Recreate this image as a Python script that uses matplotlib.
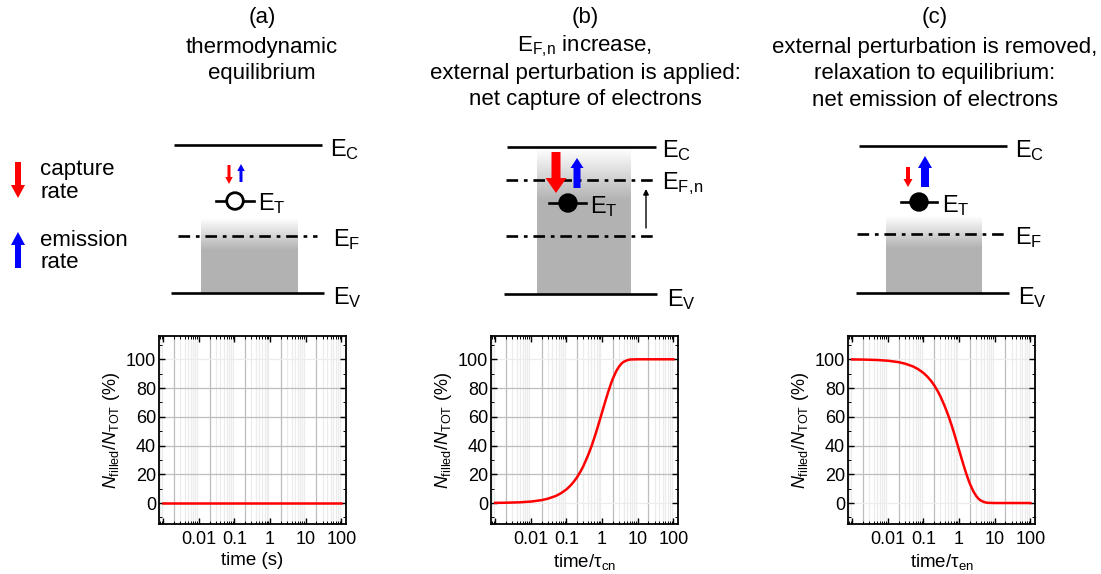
import numpy as np
import matplotlib
matplotlib.use("Agg")
import matplotlib.pyplot as plt
from matplotlib import patches
from matplotlib.ticker import FixedLocator, NullFormatter

plt.rcParams["font.family"] = ["Liberation Sans", "DejaVu Sans"]
plt.rcParams["mathtext.fontset"] = "custom"
plt.rcParams["mathtext.rm"] = "Liberation Sans"
plt.rcParams["mathtext.it"] = "Liberation Sans:italic"
plt.rcParams["mathtext.bf"] = "Liberation Sans:bold"

# ---- data: fraction of filled traps vs normalised time ----
time_points = [0.001, 0.002, 0.005, 0.01, 0.02, 0.03, 0.05, 0.07, 0.1, 0.13, 0.16,
               0.2, 0.25, 0.3, 0.4, 0.5, 0.6, 0.7, 0.85, 1.0, 1.2, 1.5, 1.8,
               2.0, 2.5, 3.0, 3.5, 4.0, 5.0, 6.0, 7.0, 10, 100]
filled_equilibrium = [0.0] * len(time_points)
filled_capture = [0.1, 0.2, 0.5, 1.0, 2.0, 3.0, 4.9, 6.8, 9.5, 12.2, 14.8,
                  18.1, 22.1, 25.9, 33.0, 39.3, 45.1, 50.3, 57.3, 63.2, 69.9,
                  77.7, 83.5, 86.5, 91.8, 95.0, 97.0, 98.2, 99.3, 99.8, 99.9,
                  100.0, 100.0]
filled_emission = [99.9, 99.8, 99.5, 99.0, 98.0, 97.0, 95.1, 93.2, 90.5, 87.8, 85.2,
                   81.9, 77.9, 74.1, 67.0, 60.7, 54.9, 49.7, 42.7, 36.8, 30.1,
                   22.3, 16.5, 13.5, 8.2, 5.0, 3.0, 1.8, 0.7, 0.2, 0.1,
                   0.0, 0.0]

x_tick_values = [0.01, 0.1, 1, 10, 100]
x_tick_labels = ["0.01", "0.1", "1", "10", "100"]
y_tick_values = [0, 20, 40, 60, 80, 100]

panel_titles = [
    ["(a)", "thermodynamic", "equilibrium"],
    ["(b)", r"E$_{\mathrm{F,\!n}}$ increase,", "external perturbation is applied:",
     "net capture of electrons"],
    ["(c)", "external perturbation is removed,", "relaxation to equilibrium:",
     "net emission of electrons"],
]
x_labels = ["time (s)", r"time/τ$_{\mathrm{cn}}$", r"time/τ$_{\mathrm{en}}$"]
y_label = r"$N_{\mathrm{filled}}/N_{\mathrm{TOT}}$ (%)"

W, H = 1101, 574
fig = plt.figure(figsize=(W / 100, H / 100), dpi=100)

# ---- overlay in pixel units for the band diagrams ----
ov = fig.add_axes([0, 0, 1, 1])
ov.set_axis_off()

LW = 1.9
DASHDOT = (0, (4.4, 2.2, 1.4, 2.2))
GRAY = np.array([0.70, 0.70, 0.70])


def level(x0, x1, y, dashed=False):
    ov.plot([x0, x1], [y, y], color="black", lw=LW,
            linestyle=DASHDOT if dashed else "-", solid_capstyle="butt")


def label(x, y, main, sub, size=17):
    ov.text(x, y, r"%s$_{\mathrm{%s}}$" % (main, sub), fontsize=size,
            ha="left", va="center")


def shaded_box(x0, x1, y_top, y_fade, y_bot):
    n = 200
    ys = np.linspace(y_top, y_bot, n)
    alpha = np.clip((ys - y_top) / (y_fade - y_top), 0, 1)
    img = np.zeros((n, 1, 4))
    img[:, 0, :3] = GRAY
    img[:, 0, 3] = alpha
    ov.imshow(img, extent=[x0, x1, y_bot, y_top], origin="upper",
              aspect="auto", interpolation="bilinear", zorder=0)


def arrow(x, y_tail, y_tip, color, width, head_w, head_l):
    ov.add_patch(patches.FancyArrow(x, y_tail, 0, y_tip - y_tail, width=width,
                                    head_width=head_w, head_length=head_l,
                                    length_includes_head=True, color=color,
                                    lw=0, zorder=5))


def trap(xc, y, x0, x1, filled):
    ov.plot([x0, x1], [y, y], color="black", lw=LW, zorder=4)
    ov.add_patch(patches.Circle((xc, y), 8.3, facecolor="black" if filled else "white",
                                edgecolor="black", lw=2.0, zorder=6))


# legend arrows
arrow(18, 162, 198, "#ff0000", 6, 14, 13)
ov.text(40, 170, "capture", fontsize=16, ha="left", va="center")
ov.text(40, 193, "rate", fontsize=16, ha="left", va="center")
arrow(18, 268, 232, "#0000ff", 6, 14, 13)
ov.text(40, 240, "emission", fontsize=16, ha="left", va="center")
ov.text(40, 263, "rate", fontsize=16, ha="left", va="center")

# panel (a)
shaded_box(201, 298, 218, 250, 293)
level(174, 322, 145)
label(330, 150, "E", "C")
arrow(229, 165, 184, "#ff0000", 3, 7.5, 7)
arrow(241, 182, 164, "#0000ff", 3, 7.5, 7)
trap(235, 201, 216, 254, filled=False)
label(258, 204, "E", "T")
level(178, 317, 236, dashed=True)
label(333, 240, "E", "F")
level(171, 324, 293)
label(333, 298, "E", "V")

# panel (b)
shaded_box(537, 631, 148, 200, 294)
level(507, 656, 147)
label(662, 151, "E", "C")
level(506, 653, 180, dashed=True)
label(662, 184, "E", r"F,\!n")
level(506, 653, 236, dashed=True)
arrow(556, 152, 193, "#ff0000", 9, 21, 15)
arrow(577, 188, 158, "#0000ff", 7, 13, 10)
trap(568, 203, 549, 586, filled=True)
label(590, 207, "E", "T")
ov.annotate("", xy=(646, 189), xytext=(646, 228),
            arrowprops=dict(arrowstyle="-|>", color="black", lw=1.0,
                            mutation_scale=8, shrinkA=0, shrinkB=0))
level(504, 657, 294)
label(667, 300, "E", "V")

# panel (c)
shaded_box(886, 982, 216, 248, 293)
level(859, 1007, 146)
label(1015, 151, "E", "C")
arrow(908, 167, 187, "#ff0000", 4, 9, 8)
arrow(925, 187, 156, "#0000ff", 8, 14, 12)
trap(919, 202, 901, 937, filled=True)
label(942, 206, "E", "T")
level(857, 1005, 234, dashed=True)
label(1015, 238, "E", "F")
level(856, 1009, 293)
label(1018, 298, "E", "V")

# titles
title_x = [262, 585, 935]
title_y = [[18, 48, 73], [18, 46, 73, 100], [18, 48, 74, 100]]
for tx, lines, ys in zip(title_x, panel_titles, title_y):
    for line, ty in zip(lines, ys):
        ov.text(tx, ty, line, fontsize=16, ha="center", va="center")

ov.set_xlim(0, W)
ov.set_ylim(H, 0)

# ---- kinetics panels ----
series = [filled_equilibrium, filled_capture, filled_emission]
lefts = [159, 491, 848]
dark_vgrid = [2 * 10.0 ** k for k in range(-4, 3)]
light_vgrid = [m * 10.0 ** k for k in range(-4, 3) for m in (3, 4, 5, 6, 7, 8, 9)]

for i, (left, yvals) in enumerate(zip(lefts, series)):
    ax = fig.add_axes([left / W, 1 - 524 / H, 187 / W, 188 / H])
    ax.set_xscale("log")
    ax.set_xlim(7.6e-4, 135)
    ax.set_ylim(-14.6, 116.2)
    for xv in light_vgrid:
        ax.axvline(xv, color="#ececec", lw=0.9, zorder=0)
    for xv in dark_vgrid:
        ax.axvline(xv, color="#bdbdbd", lw=0.9, zorder=0)
    for yv in (20, 40, 60, 80):
        ax.axhline(yv, color="#bdbdbd", lw=0.9, zorder=0)
    for yv in (0, 100):
        ax.axhline(yv, color="#ececec", lw=0.9, zorder=0)
    ax.plot(time_points, yvals, color="#ff0000", lw=1.8, zorder=3)

    ax.set_xticks(x_tick_values + [0.001], x_tick_labels + [""])
    ax.xaxis.set_minor_locator(FixedLocator([m * 10.0 ** k for k in range(-4, 3)
                                             for m in range(2, 10)]))
    ax.xaxis.set_minor_formatter(NullFormatter())
    ax.set_yticks(y_tick_values)
    ax.yaxis.set_minor_locator(FixedLocator([-10, 10, 30, 50, 70, 90, 110]))
    ax.tick_params(which="major", direction="in", length=4, width=1.0,
                   top=True, right=True, labelsize=13)
    ax.tick_params(axis="y", which="major", pad=2)
    ax.tick_params(axis="x", which="major", pad=5)
    ax.tick_params(which="minor", direction="in", length=2, width=0.7,
                   top=True, right=True)
    for sp in ax.spines.values():
        sp.set_linewidth(1.3)
    ax.set_xlabel(x_labels[i], fontsize=13.5, labelpad=3)
    ax.set_ylabel(y_label, fontsize=13, labelpad=3)

fig.savefig("out.png", dpi=100)
